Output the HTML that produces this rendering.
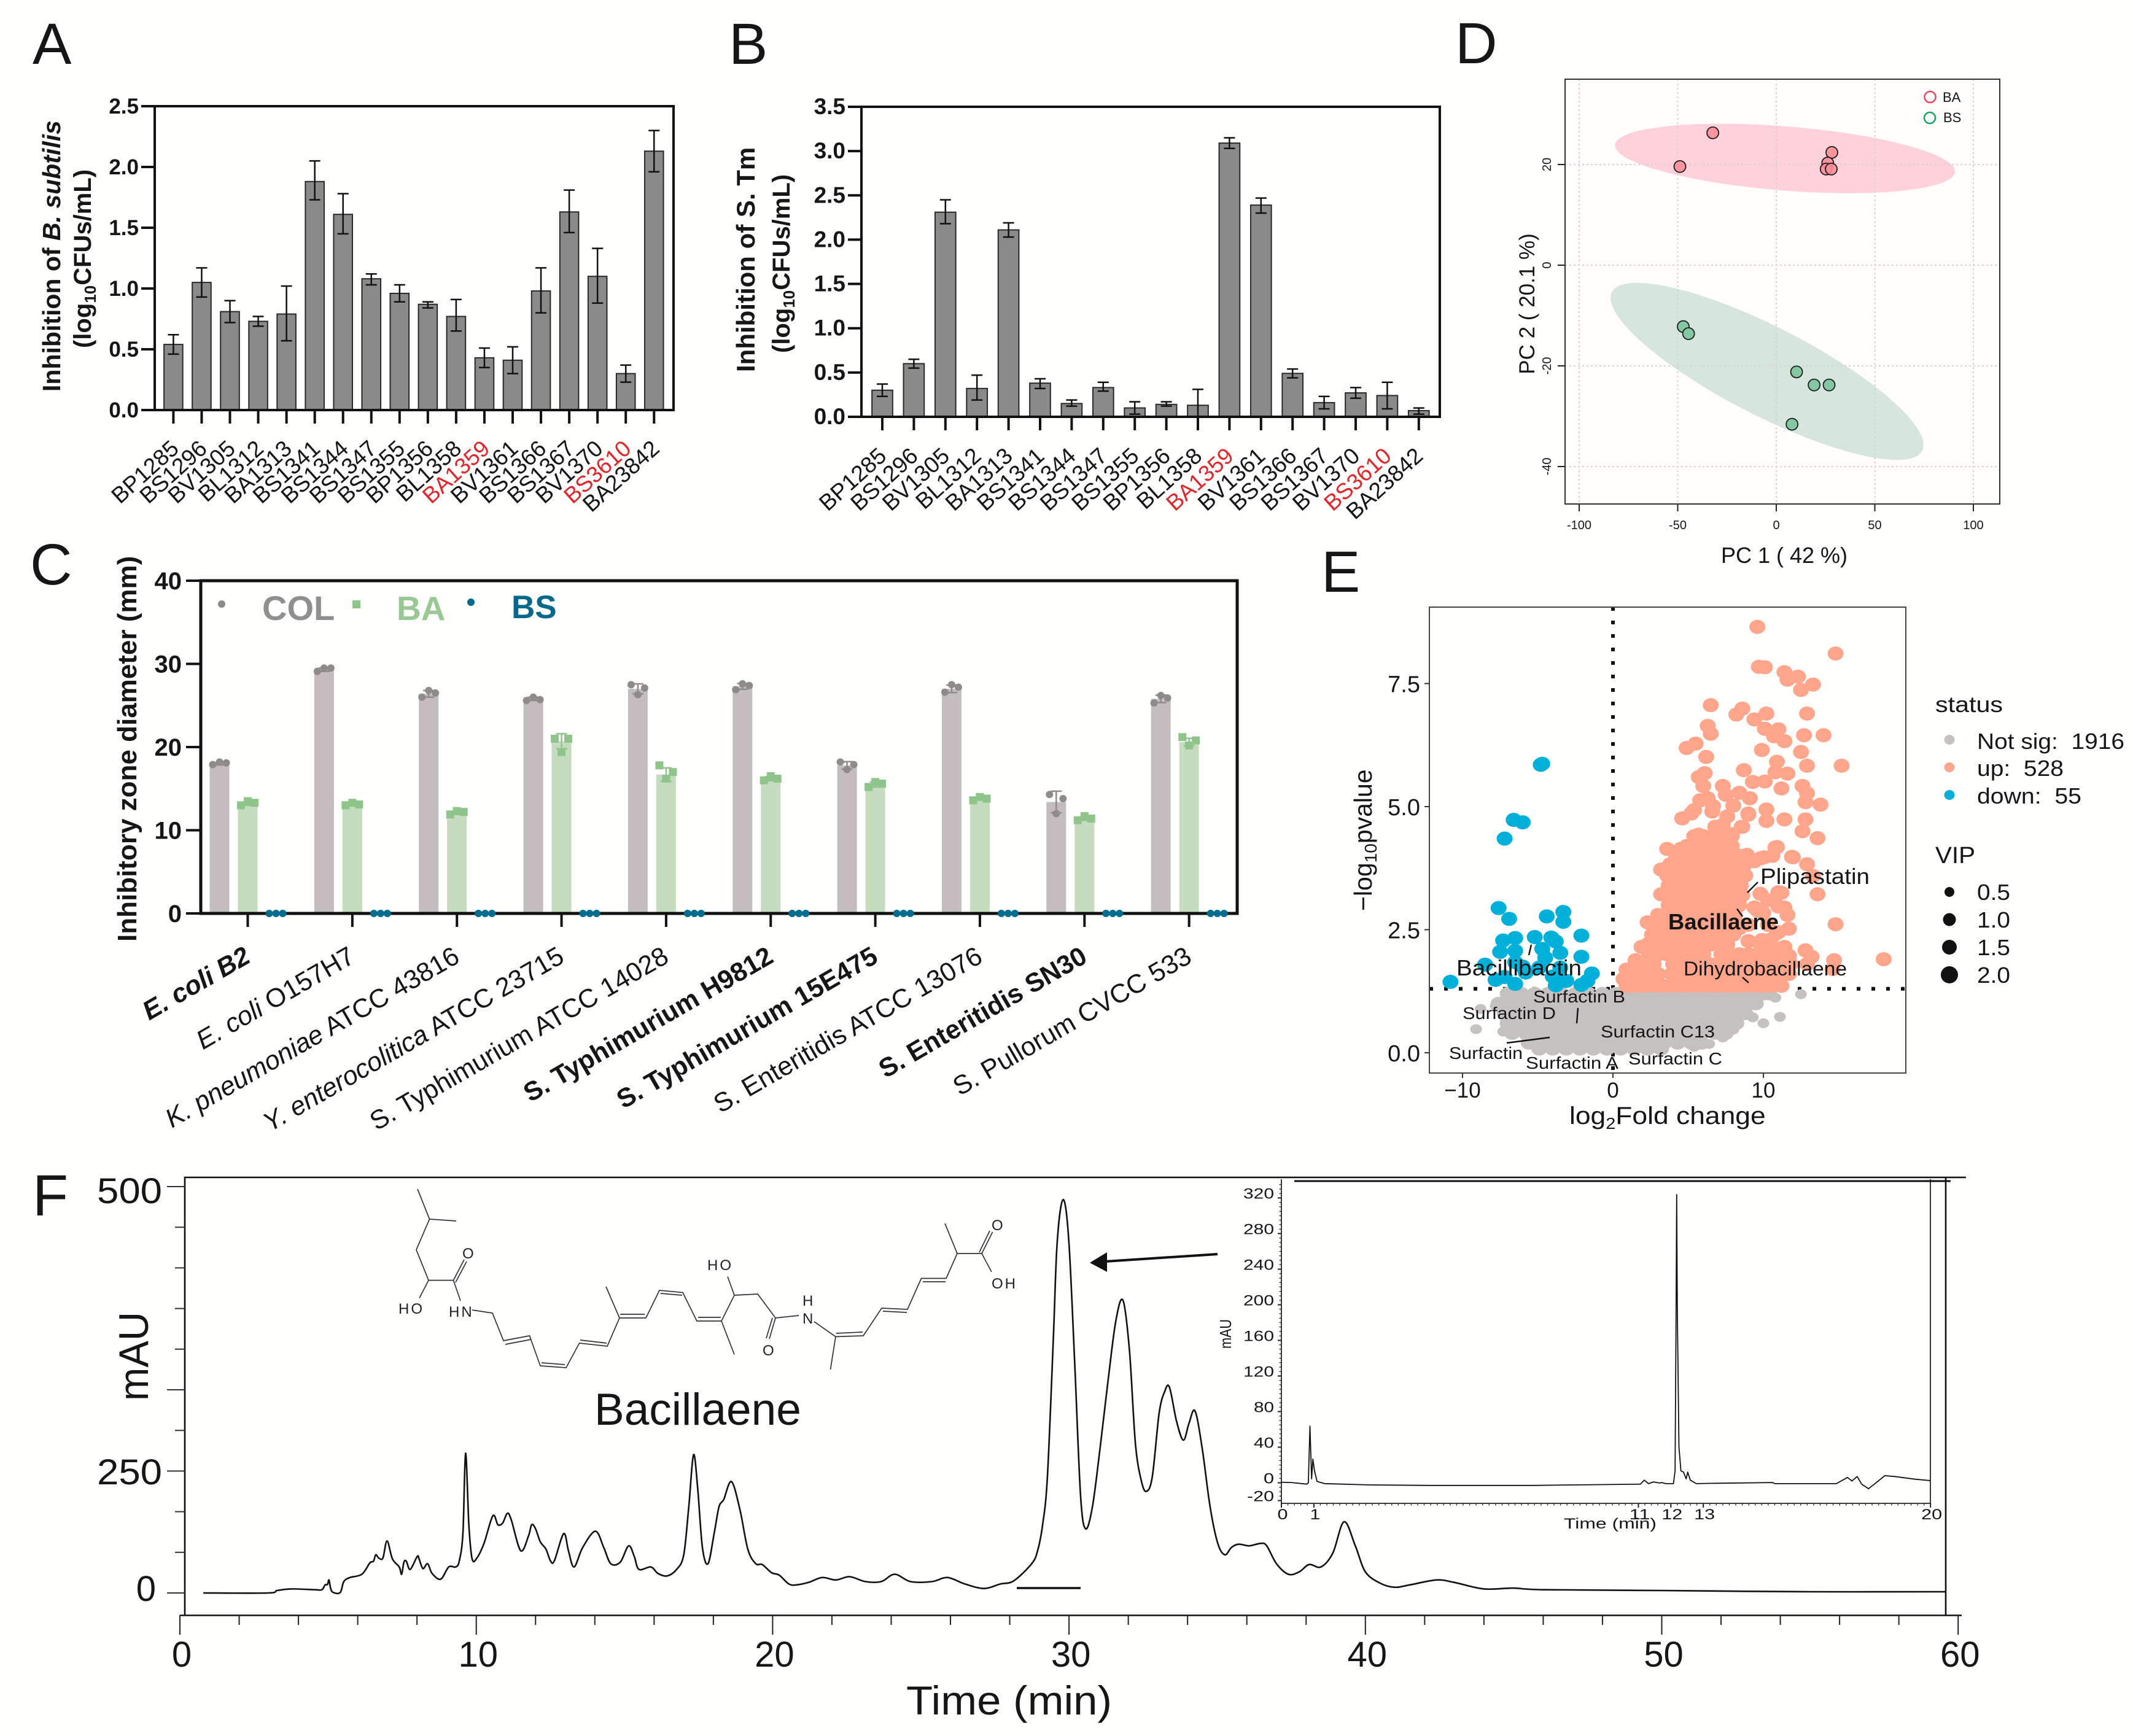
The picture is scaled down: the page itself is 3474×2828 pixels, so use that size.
<!DOCTYPE html>
<html lang="en">
<head>
<meta charset="utf-8">
<title>Bacillaene multi-panel figure</title>
<style>
html,body{margin:0;padding:0;background:#fefefd;}
svg{display:block;font-family:"Liberation Sans",sans-serif;}
text{fill:#161616;white-space:pre;}
.panel-letter{font-size:95px;}
.atom{font-size:24px;fill:#222;letter-spacing:3px;}
</style>
</head>
<body>
<svg xmlns="http://www.w3.org/2000/svg" width="3474" height="2828" viewBox="0 0 3474 2828">
<rect x="0" y="0" width="3474" height="2828" fill="#fefefd"/>

<text class="panel-letter" x="53" y="104">A</text>
<text class="panel-letter" x="1187" y="104">B</text>
<text class="panel-letter" x="2370" y="103">D</text>
<text class="panel-letter" x="49" y="952">C</text>
<text class="panel-letter" x="2152" y="964">E</text>
<text class="panel-letter" x="53" y="1980">F</text>

<g id="panel-a">
  <text transform="translate(98,638) rotate(-90)" font-size="41" font-weight="bold">Inhibition of <tspan font-style="italic">B. subtilis</tspan></text>
  <text transform="translate(148,567) rotate(-90)" font-size="40" font-weight="bold">(log<tspan font-size="26" dy="8">10</tspan><tspan dy="-8">CFUs/mL)</tspan></text>
</g>

<g id="panel-b">
  <text transform="translate(1229,606) rotate(-90)" font-size="42" font-weight="bold">Inhibition of S. Tm</text>
  <text transform="translate(1286,575) rotate(-90)" font-size="40" font-weight="bold">(log<tspan font-size="26" dy="8">10</tspan><tspan dy="-8">CFUs/mL)</tspan></text>
</g>

<g id="panel-c">
  <text transform="translate(222,1534) rotate(-90)" font-size="44" font-weight="bold">Inhibitory zone diameter (mm)</text>
  <circle cx="361" cy="984" r="6" fill="#8f8b8b"/>
  <text x="427" y="1010" font-size="56" font-weight="bold" style="fill:#908e8e">COL</text>
  <rect x="574" y="978" width="13" height="13" fill="#8fc58a"/>
  <text x="646" y="1010" font-size="55" font-weight="bold" style="fill:#9ac894">BA</text>
  <circle cx="767" cy="981" r="6" fill="#06688a"/>
  <text x="833" y="1007" font-size="53" font-weight="bold" style="fill:#06688a">BS</text>
</g>

<g id="panel-d">
  <text x="2906" y="917" text-anchor="middle" font-size="36">PC 1 ( 42 %)</text>
  <text transform="translate(2499,495) rotate(-90)" text-anchor="middle" font-size="35">PC 2 ( 20.1 %)</text>
</g>

<g id="panel-e">
  <text transform="translate(2556,1831) scale(1.11,1)" font-size="40">log<tspan font-size="26" dy="8">2</tspan><tspan dy="-8">Fold change</tspan></text>
  <text transform="translate(2234,1484) rotate(-90)" font-size="41">−log<tspan font-size="28" dy="8">10</tspan><tspan dy="-8">pvalue</tspan></text>
  <text x="3152" y="1160" font-size="36" textLength="110" lengthAdjust="spacingAndGlyphs">status</text>
  <text x="3220" y="1220" font-size="36" textLength="240" lengthAdjust="spacingAndGlyphs">Not sig:  1916</text>
  <text x="3220" y="1264" font-size="36" textLength="141" lengthAdjust="spacingAndGlyphs">up:  528</text>
  <text x="3220" y="1309" font-size="36" textLength="170" lengthAdjust="spacingAndGlyphs">down:  55</text>
  <ellipse cx="3175" cy="1205" rx="8.5" ry="8" fill="#c5c1c0"/>
  <ellipse cx="3175" cy="1250" rx="8.5" ry="8" fill="#ffa58c"/>
  <ellipse cx="3175" cy="1295" rx="8.5" ry="8" fill="#00b0d8"/>
  <text x="3152" y="1406" font-size="38" textLength="65" lengthAdjust="spacingAndGlyphs">VIP</text>
  <circle cx="3175" cy="1453" r="8" fill="#111"/>
  <circle cx="3175" cy="1498" r="10.5" fill="#111"/>
  <circle cx="3175" cy="1543" r="12" fill="#111"/>
  <circle cx="3175" cy="1588" r="14" fill="#111"/>
  <text x="3220" y="1466" font-size="36" textLength="54" lengthAdjust="spacingAndGlyphs">0.5</text>
  <text x="3220" y="1511" font-size="36" textLength="54" lengthAdjust="spacingAndGlyphs">1.0</text>
  <text x="3220" y="1556" font-size="36" textLength="54" lengthAdjust="spacingAndGlyphs">1.5</text>
  <text x="3220" y="1601" font-size="36" textLength="54" lengthAdjust="spacingAndGlyphs">2.0</text>
</g>

<g id="panel-f">
  <path d="M680 1937L699.5 1986L743 1989M699.5 1986L678 2036L698 2085.6L738.5 2085.6M698 2085.6L683 2114.6M738.5 2085.6L756 2052M742 2089L760 2055M738.5 2085.6L750 2119M769 2134L802 2139L820 2184L862.5 2176L880 2225L922 2228L943.6 2188L989 2193L1009 2147L987 2096M1009 2147L1052 2147L1074 2102L1112 2105.5L1135 2152L1175 2152L1196 2110L1185 2079.5M1175 2152L1196 2206.5M1196 2110L1234 2108L1263 2147L1253 2181M1258 2147L1248 2180M1263 2147L1301 2143M1326 2153L1361 2177.5L1352.5 2231M1361 2177.5L1406 2176L1436 2131L1478 2133L1500.5 2082.5L1541 2082.5L1559 2042L1539 1993M1559 2042L1599 2042L1616.6 2007M1595 2040L1612 2005M1599 2042L1615 2072M823 2190L865 2182M882 2220L920 2223M945 2183L988 2188M1010 2141L1050 2141M1076 2107L1111 2110M1137 2146L1174 2146M1362 2172L1405 2170M1438 2136L1477 2138M1503 2088L1540 2088" fill="none" stroke="#333" stroke-width="1.7"/>
  <text class="atom" x="649" y="2140">HO</text>
  <text class="atom" x="753" y="2050">O</text>
  <text class="atom" x="731" y="2145">HN</text>
  <text class="atom" x="1152" y="2069">HO</text>
  <text class="atom" x="1242" y="2208">O</text>
  <text class="atom" x="1307" y="2127">H</text>
  <text class="atom" x="1307" y="2156">N</text>
  <text class="atom" x="1615" y="2004">O</text>
  <text class="atom" x="1615" y="2099">OH</text>
  <text x="968" y="2321" font-size="73">Bacillaene</text>
  <text x="264" y="1960" text-anchor="end" font-size="58" textLength="106" lengthAdjust="spacingAndGlyphs">500</text>
  <text x="264" y="2418" text-anchor="end" font-size="58" textLength="106" lengthAdjust="spacingAndGlyphs">250</text>
  <text x="254" y="2608" text-anchor="end" font-size="58">0</text>
  <text transform="translate(241,2282) rotate(-90)" font-size="68" textLength="145" lengthAdjust="spacingAndGlyphs">mAU</text>
  <text x="1476" y="2793" font-size="66" textLength="335" lengthAdjust="spacingAndGlyphs">Time (min)</text>
  <line x1="1656" y1="2587" x2="1760" y2="2587" stroke="#111" stroke-width="3.5"/>
  <line x1="1983" y1="2043" x2="1800" y2="2055" stroke="#111" stroke-width="4"/>
  <polygon points="1775,2057 1803,2040 1803,2072" fill="#111"/>
  <text transform="translate(2005,2197) rotate(-90)" font-size="26" textLength="48" lengthAdjust="spacingAndGlyphs">mAU</text>
  <text x="2547" y="2490" font-size="24" textLength="151" lengthAdjust="spacingAndGlyphs">Time (min)</text>
</g>

<g id="panel-e-annotations"></g>

<script>
/* ---------- Panels A and B ---------- */
const strainNames = ['BP1285','BS1296','BV1305','BL1312','BA1313','BS1341','BS1344','BS1347','BS1355','BP1356','BL1358','BA1359','BV1361','BS1366','BS1367','BV1370','BS3610','BA23842'];
const highlightedStrains = ['BA1359','BS3610'];
const aValues = [0.54,1.05,0.81,0.73,0.79,1.88,1.61,1.08,0.96,0.87,0.77,0.43,0.41,0.98,1.63,1.10,0.30,2.13];
const aErrUpper = [0.62,1.17,0.90,0.77,1.02,2.05,1.78,1.12,1.03,0.89,0.91,0.51,0.52,1.17,1.81,1.33,0.37,2.30];
const aErrLower = [0.46,0.93,0.72,0.69,0.57,1.73,1.45,1.03,0.89,0.84,0.65,0.35,0.30,0.80,1.46,0.88,0.23,1.96];
const aTickValues = [0,0.5,1,1.5,2,2.5];
const bValues = [0.30,0.60,2.31,0.32,2.11,0.38,0.15,0.33,0.10,0.14,0.13,3.09,2.39,0.49,0.16,0.27,0.24,0.07];
const bErrUpper = [0.37,0.65,2.45,0.47,2.19,0.43,0.19,0.39,0.17,0.17,0.31,3.15,2.47,0.54,0.23,0.33,0.39,0.10];
const bErrLower = [0.23,0.55,2.18,0.19,2.03,0.32,0.12,0.29,0.03,0.12,0.00,3.03,2.30,0.44,0.09,0.21,0.09,0.03];
const bTickValues = [0,0.5,1,1.5,2,2.5,3,3.5];

/* ---------- Panel C ---------- */
const cCategories = ['E. coli B2','E. coli O157H7','K. pneumoniae ATCC 43816','Y. enterocolitica ATCC 23715','S. Typhimurium ATCC 14028','S. Typhimurium H9812','S. Typhimurium 15E475','S. Enteritidis ATCC 13076','S. Enteritidis SN30','S. Pullorum CVCC 533'];
const cBoldCategories = ['E. coli B2','S. Typhimurium H9812','S. Typhimurium 15E475','S. Enteritidis SN30'];
const cItalicPrefixes = ['E. coli','E. coli','K. pneumoniae','Y. enterocolitica','','','','','',''];
const cColMeans = [18,29.3,26.4,25.8,27,27.3,17.8,27,13.4,25.8];
const cBaMeans = [13.2,13.1,12.1,20.7,16.7,16.2,15.5,13.8,11.4,20.6];
const cColErrors = [0.15,0.2,0.4,0.2,0.6,0.35,0.45,0.45,1.3,0.45];
const cBaErrors = [0.2,0.15,0.2,0.9,0.8,0.25,0.3,0.15,0.2,0.45];
const cColReplicates = [[17.9,18.2,18.1],[29.1,29.5,29.5],[26,26.8,26.5],[25.6,26,25.7],[27.5,26.3,27.1],[26.9,27.6,27.4],[18.2,17.3,17.9],[26.6,27.5,27.2],[14.3,12,13.8],[25.3,26.2,25.9]];
const cBaReplicates = [[13,13.5,13.3],[13,13.3,13.1],[11.9,12.3,12.2],[21,19.4,21],[17.8,16.2,17],[16,16.5,16.2],[15.2,15.8,15.6],[13.6,14,13.8],[11.2,11.7,11.4],[21.2,20.2,20.8]];
const cBsReplicates = [[0,0,0],[0,0,0],[0,0,0],[0,0,0],[0,0,0],[0,0,0],[0,0,0],[0,0,0],[0,0,0],[0,0,0]];
const cTickValues = [0,10,20,30,40];

/* ---------- Panel D ---------- */
const dBaPC1 = [-48.9,-32.2,28.2,26.1,25.3,27.9];
const dBaPC2 = [19.6,26.3,22.4,20.3,19.1,19.1];
const dBsPC1 = [-47.2,-44.5,10.3,19.2,26.8,8];
const dBsPC2 = [-12.2,-13.6,-21.2,-23.8,-23.8,-31.6];
const dBaEllipse = [4.4,21.2,86.3,6.9,-0.375];
const dBsEllipse = [-4.7,-21.1,79.4,17.6,-0.83];
const dXTicks = [-100,-50,0,50,100];
const dYTicks = [-40,-20,0,20];

/* ---------- Panel E ---------- */
const eUpPoints = [[9.6,8.65],[14.8,8.11],[9.7,7.84],[10.1,7.83],[11.4,7.73],[11.6,7.58],[12.3,7.64],[13.3,7.48],[12.5,7.37],[6.5,7.06],[8.6,6.99],[8.2,6.87],[10.2,6.89],[12.9,6.89],[9.4,6.77],[6.3,6.64],[10.1,6.58],[10.7,6.43],[11.0,6.57],[6.5,6.48],[12.7,6.45],[14.0,6.45],[11.4,6.33],[5.5,6.28],[4.9,6.19],[9.9,6.15],[12.5,6.11],[6.2,6.01],[15.2,5.83],[12.9,5.83],[10.9,5.91],[10.8,5.70],[11.6,5.67],[8.7,5.74],[6.1,5.68],[5.7,5.60],[9.3,5.50],[10.1,5.51],[6.0,5.42],[7.3,5.42],[11.2,5.37],[12.6,5.42],[12.9,5.27],[7.5,5.24],[8.4,5.28],[9.1,5.17],[12.8,5.09],[13.8,5.04],[5.8,5.13],[6.3,5.17],[8.0,5.02],[10.2,4.94],[10.2,4.71],[9.0,4.86],[11.4,4.74],[12.8,4.74],[12.6,4.50],[13.6,4.36],[4.6,4.76],[5.2,4.86],[6.6,4.90],[7.3,4.63],[8.6,4.59],[7.9,4.44],[5.6,4.37],[3.6,4.14],[4.5,4.14],[10.8,4.17],[11.9,3.98],[12.9,3.83],[9.8,3.95],[8.9,4.02],[3.2,3.72],[3.8,3.83],[13.3,3.59],[13.6,3.22],[9.8,3.23],[11.2,3.25],[10.7,3.10],[11.4,2.95],[11.6,2.80],[11.7,2.52],[14.8,2.61],[3.2,3.22],[2.3,2.65],[3.0,2.80],[9.4,2.95],[10.0,2.84],[8.4,2.53],[1.9,2.15],[1.5,1.88],[0.9,1.69],[0.7,1.50],[12.8,2.08],[13.2,1.95],[14.7,1.88],[18.0,1.90],[14.6,1.70],[11.4,2.15],[10.5,2.3],[11.0,2.45],[5.4,4.93],[6.65,5.01],[7.6,4.8],[9.0,4.84],[8.55,4.59],[5.7,4.43],[6.8,4.59],[9.4,3.89],[10.05,3.97],[10.9,4.18],[10.6,4.0],[11.96,3.97],[11.0,3.26],[10.3,3.1],[11.0,2.97],[9.6,2.89],[10.9,2.43],[9.0,2.27],[9.9,2.29],[10.9,1.98],[11.7,1.97]];
const eUpRowLevels = [4.4,4.2,4.0,3.8,3.6,3.4,3.2,3.0,2.8,2.6,2.4,2.2,2.0,1.8,1.6,1.36];
const eUpRowFoldChanges = [
 [5.4,6.0,6.6,7.2,7.9],
 [4.9,5.5,6.1,6.7,7.3,7.9],
 [4.2,4.8,5.4,6.0,6.6,7.2,7.8,8.4],
 [3.9,4.5,5.1,5.7,6.3,6.9,7.5,8.1,8.7],
 [3.6,4.2,4.8,5.4,6.0,6.6,7.2,7.8,8.4,8.8],
 [3.7,4.3,4.9,5.5,6.1,6.7,7.3,7.9,8.5],
 [3.8,4.4,5.0,5.6,6.2,6.8,7.4,8.0,8.6],
 [3.7,4.3,4.9,5.5,6.1,6.7,7.3,7.9,8.4],
 [4.0,4.6,5.2,5.8,6.4,7.0,7.6,8.1],
 [2.9,3.5,4.1,4.7,5.3,5.9,6.5,7.1,7.7,8.3,9.0,10.3],
 [2.6,3.2,3.8,4.4,5.0,5.6,6.2,6.8,7.4,8.0],
 [2.3,2.9,3.5,4.1,4.7,5.3,5.9,6.5,7.1,7.6,9.8,10.4],
 [2.4,3.0,3.6,4.2,4.8,5.4,6.0,7.2,7.8,8.4,9.0,9.6,10.5,11.2],
 [1.5,2.1,2.7,4.0,4.6,5.2,5.8,6.4,7.0,7.6,8.2,8.8,9.4,10.0,10.6,11.2,11.8,12.9],
 [1.2,1.8,2.4,3.0,3.9,4.5,5.1,5.7,6.3,6.9,7.5,8.1,8.7,9.3,9.9,10.5,11.1,11.7],
 [0.9,1.5,2.1,2.7,3.3,3.9,4.5,5.1,5.7,6.3,6.9,7.5,8.1,8.7,9.3,9.9,10.5,11.2]
];
const eDownPoints = [[-4.7,5.87],[-4.8,5.85],[-6.6,4.73],[-6.0,4.68],[-7.2,4.35],[-7.6,2.94],[-6.9,2.72],[-4.4,2.77],[-3.3,2.86],[-3.3,2.66],[-2.1,2.38],[-5.2,2.35],[-6.5,2.33],[-7.3,2.28],[-4.1,2.34],[-3.8,2.26],[-7.5,2.05],[-6.5,2.07],[-4.7,2.11],[-3.5,2.03],[-4.5,1.93],[-2.1,1.95],[-8.5,1.79],[-6.5,1.84],[-5.8,1.63],[-10.8,1.44],[-7.8,1.48],[-6.5,1.40],[-7.2,1.54],[-1.4,1.61],[-1.7,1.46],[-2.1,1.38],[-3.1,1.46],[-3.8,1.37],[-3.5,1.73],[-4.9,1.73],[-6.0,1.75],[-4.0,1.55]];
const eGrayOutliers = [[12.5,1.19],[10.8,1.12],[11.1,0.73],[10,0.6],[9.3,0.72],[-9.1,0.48],[-8.8,0.89],[7.3,0.31],[8,0.47],[-7.3,0.43],[6.4,0.18],[5.4,0.12],[-7.8,0.95]];
const eGrayRowLevels = [1.2,1.0,0.8,0.6,0.4,0.2,0.08];
const eGrayRowFoldChanges = [
 [-7,-6.1,-5.2,-4.3,-3.4,-2.5,-1.6,-0.7,0.2,1.1,2,2.9,3.8,4.7,5.6,6.5,7.4,8.3,9.2,10,10.4],
 [-7.6,-6.7,-5.8,-4.9,-4,-3.1,-2.2,-1.3,-0.4,0.5,1.4,2.3,3.2,4.1,5,5.9,6.8,7.7,8.6,9.5],
 [-7.2,-6.3,-5.4,-4.5,-3.6,-2.7,-1.8,-0.9,0,0.9,1.8,2.7,3.6,4.5,5.4,6.3,7.2,8.1,8.8],
 [-7,-6.1,-5.2,-4.3,-3.4,-2.5,-1.6,-0.7,0.2,1.1,2,2.9,3.8,4.7,5.6,6.5,7.4,8.2],
 [-6.7,-5.8,-4.9,-4,-3.1,-2.2,-1.3,-0.4,0.5,1.4,2.3,3.2,4.1,5,5.9,6.8,7.5],
 [-5.6,-4.7,-3.8,-2.9,-2,-1.1,-0.2,0.7,1.6,2.5,3.4,4.3,5.2,5.9],
 [-4.9,-4,-3.1,-2.2,-1.3,-0.4,0.5,1.4,2.3,3.2]
];
const eThresholdP = 1.3;
const eXTicks = [-10,0,10];
const eYTicks = [0,2.5,5,7.5];

/* ---------- Panel F ---------- */
const fTimes = [0.79,2.96,3.28,3.76,4.55,4.79,4.9,4.98,5.03,5.09,5.18,5.41,5.53,5.74,6.14,6.41,6.53,6.61,6.71,6.85,6.99,7.17,7.40,7.48,7.56,7.64,7.77,8.01,8.07,8.20,8.36,8.51,8.80,9.07,9.31,9.43,9.55,9.64,9.75,9.86,10.02,10.26,10.56,10.73,10.89,11.05,11.18,11.50,11.76,11.87,12.0,12.16,12.35,12.51,12.64,12.95,13.11,13.30,13.59,14.02,14.30,14.54,14.86,15.14,15.33,15.49,15.89,16.13,16.44,16.76,17.0,17.17,17.33,17.47,17.63,17.82,18.03,18.19,18.35,18.61,18.90,19.16,19.43,19.65,19.96,20.22,20.55,20.81,21.21,21.67,22.13,22.60,23.13,23.66,24.12,24.65,25.37,25.90,26.49,27.13,27.68,28.14,28.74,28.94,29.11,29.27,29.47,29.60,29.80,29.99,30.19,30.39,30.56,30.79,31.05,31.32,31.58,31.82,32.04,32.24,32.44,32.61,32.81,33.04,33.23,33.39,33.63,33.86,34.05,34.25,34.49,34.76,35.02,35.26,35.48,35.72,36.08,36.47,36.67,37.0,37.4,37.77,38.1,38.5,38.9,39.28,39.66,40.0,40.5,41,41.5,42.4,43,44,45,46,50,55,59.6];
const fSignal = [0,0,3,5,4,4,10,10.5,16,5,0.5,0.5,14,19,23,37,39,47,43,43,64,42,32,23,38,39,29,45,42,30,36,24,17,32,32,40,74,172,84,42,43,61,95,84,86,98,90,52,70,84,79,63,54,39,40,73,52,32,56,76,56,36,38,58,45,29,32,24,21,29,47,106,170,129,56,36,74,106,115,137,102,54,36,35,25,22,11,10,13,19,16,20,14,14,23,14,14,19,11,5.5,11,15,36,52,84,143,312,431,484,435,284,120,79,106,179,262,335,360,298,184,138,125,143,221,248,253,211,188,209,224,179,106,61,47,56,60,58,61,58,36,23,26,35,32,49,87.6,58,26,12,7,10,16,13,5,6,4,3,1.5,1.5];
const fXTicks = [0,2,4,6,8,10,12,14,16,18,20,22,24,26,28,30,32,34,36,38,40,42,44,46,48,50,52,54,56,58,60];
const fXLabels = [0,10,20,30,40,50,60];
const fYTicks = [0,50,100,150,200,250,300,350,400,450,500];
const fYMajorTicks = [0,150,250,500];
const insetTimes = [0,0.31,0.78,0.83,0.88,0.93,0.97,1.02,1.10,1.33,2.75,4.63,7.76,10.43,11.06,11.18,11.31,11.47,11.65,11.72,11.84,12.08,12.13,12.16,12.18,12.2,12.25,12.31,12.39,12.47,12.52,12.6,12.78,13.25,15.14,15.2,17.1,17.44,17.58,17.74,17.88,18.09,18.27,18.59,18.9,19.53,20];
const insetSignal = [0.6,0.3,-1.5,0,63.6,4.5,26.6,13.4,1.5,-1,-2.4,-3,-3,-1.8,-1.5,3,-1,1,-0.3,0.3,-1,-1,13.4,190,323.8,190,40,13.4,12,4.5,12,3,-1,-0.6,0.3,-1,-1,6,2,7,-1.5,-6.6,-1.5,8,7,4,2.4];
const insetYTicks = [-20,0,40,80,120,160,200,240,280,320];
const insetXLabels = [0,1,11,12,13,20];

/* ---------- helpers ---------- */
const NS = 'http://www.w3.org/2000/svg';
function make(tag, attrs, parent) {
  const node = document.createElementNS(NS, tag);
  for (const key in attrs) node.setAttribute(key, attrs[key]);
  parent.appendChild(node);
  return node;
}
function fmt1(v) { return v.toFixed(1); }
function smoothPath(pts) {
  let d = 'M' + pts[0][0].toFixed(1) + ' ' + pts[0][1].toFixed(1);
  for (let i = 0; i < pts.length - 1; i++) {
    const p0 = pts[Math.max(i - 1, 0)], p1 = pts[i], p2 = pts[i + 1], p3 = pts[Math.min(i + 2, pts.length - 1)];
    const c1x = p1[0] + (p2[0] - p0[0]) / 6, c1y = p1[1] + (p2[1] - p0[1]) / 6;
    const c2x = p2[0] - (p3[0] - p1[0]) / 6, c2y = p2[1] - (p3[1] - p1[1]) / 6;
    d += 'C' + c1x.toFixed(1) + ' ' + c1y.toFixed(1) + ' ' + c2x.toFixed(1) + ' ' + c2y.toFixed(1) + ' ' + p2[0].toFixed(1) + ' ' + p2[1].toFixed(1);
  }
  return d;
}

/* ---------- bar panels A and B ---------- */
function drawStrainBars(group, prefix, values, upper, lower, ticks, sc) {
  const x = i => sc.x0 + sc.dx * i;
  const y = v => sc.y0 - sc.k * v;
  values.forEach((v, i) => {
    const bar = make('rect', {x: x(i) - sc.w / 2, y: y(v), width: sc.w, height: y(0) - y(v), fill: '#8a8a8a', stroke: '#2a2a2a', 'stroke-width': 2}, group);
    
    
    const stem = make('path', {d: 'M' + x(i) + ' ' + y(upper[i]) + 'V' + y(lower[i]) + 'M' + (x(i) - 9) + ' ' + y(upper[i]) + 'h18M' + (x(i) - 9) + ' ' + y(lower[i]) + 'h18', fill: 'none', stroke: '#111', 'stroke-width': 2.5}, group);
    
    
    const tick = make('line', {x1: x(i), x2: x(i), y1: sc.y0, y2: sc.y0 + 22, stroke: '#111', 'stroke-width': 4}, group);
    
    
    const label = make('text', {transform: 'translate(' + (x(i) + sc.lx) + ',' + sc.ly + ') rotate(-42)', 'text-anchor': 'end', 'font-size': 37}, group);
    label.textContent = strainNames[i];
    if (highlightedStrains.includes(strainNames[i])) label.style.fill = '#e0262b';
    
    
  });
  ticks.forEach(t => {
    const tick = make('line', {x1: sc.left - 22, x2: sc.left, y1: y(t), y2: y(t), stroke: '#111', 'stroke-width': 4}, group);
    
    
    const label = make('text', {x: sc.left - 26, y: y(t) + 12, 'text-anchor': 'end', 'font-size': sc.fs, 'font-weight': 'bold'}, group);
    label.textContent = fmt1(t);
    
    
  });
  const frame = make('rect', {x: sc.left, y: y(ticks[ticks.length - 1]), width: sc.right - sc.left, height: y(0) - y(ticks[ticks.length - 1]), fill: 'none', stroke: '#111', 'stroke-width': 4}, group);
  
  
}
drawStrainBars(document.getElementById('panel-a'), 'a', aValues, aErrUpper, aErrLower, aTickValues,
  {x0: 282.4, dx: 46.05, w: 30.6, y0: 668, k: 198, left: 252, right: 1097, lx: 11, ly: 734, fs: 35});
drawStrainBars(document.getElementById('panel-b'), 'b', bValues, bErrUpper, bErrLower, bTickValues,
  {x0: 1437, dx: 51.4, w: 33.7, y0: 679, k: 144.3, left: 1403, right: 2345, lx: 9, ly: 746, fs: 37});

/* ---------- panel C ---------- */
(function () {
  const group = document.getElementById('panel-c');
  const cx = i => 403.5 + 170.35 * i;
  const cy = v => 1488 - 13.55 * v;
  const offsets = [-11, 0, 11];
  cCategories.forEach((name, i) => {
    const colBar = make('rect', {x: cx(i) - 46 - 16, y: cy(cColMeans[i]), width: 32, height: cy(0) - cy(cColMeans[i]), fill: '#c3bdbf'}, group);
    
    
    const baBar = make('rect', {x: cx(i) - 16, y: cy(cBaMeans[i]), width: 32, height: cy(0) - cy(cBaMeans[i]), fill: '#c6dcbe'}, group);
    
    
    const colErr = make('path', {d: 'M' + (cx(i) - 46) + ' ' + cy(cColMeans[i] + cColErrors[i]) + 'V' + cy(cColMeans[i] - cColErrors[i]) + 'm-9 0h18M' + (cx(i) - 55) + ' ' + cy(cColMeans[i] + cColErrors[i]) + 'h18', fill: 'none', stroke: '#908c8c', 'stroke-width': 2.5}, group);
    
    
    const baErr = make('path', {d: 'M' + cx(i) + ' ' + cy(cBaMeans[i] + cBaErrors[i]) + 'V' + cy(cBaMeans[i] - cBaErrors[i]) + 'm-9 0h18M' + (cx(i) - 9) + ' ' + cy(cBaMeans[i] + cBaErrors[i]) + 'h18', fill: 'none', stroke: '#8fc58a', 'stroke-width': 2.5}, group);
    
    
    offsets.forEach((off, r) => {
      const colDot = make('circle', {cx: cx(i) - 46 + off, cy: cy(cColReplicates[i][r]), r: 6, fill: '#8f8b8b'}, group);
      
      
      const baDot = make('rect', {x: cx(i) + off - 6.5, y: cy(cBaReplicates[i][r]) - 6.5, width: 13, height: 13, fill: '#8fc58a'}, group);
      
      
    });
    const tick = make('line', {x1: cx(i), x2: cx(i), y1: 1488, y2: 1510, stroke: '#111', 'stroke-width': 4}, group);
    
    
    const bold = cBoldCategories.includes(name);
    const label = make('text', {transform: 'translate(' + (cx(i) + 7) + ',1566) rotate(-30)', 'text-anchor': 'end', 'font-size': 43, 'font-weight': bold ? 'bold' : 'normal'}, group);
    
    
    const prefix = cItalicPrefixes[i];
    if (prefix) {
      const it = make('tspan', {'font-style': 'italic'}, label);
      it.textContent = prefix;
      
      
    }
    const rest = make('tspan', {}, label);
    rest.textContent = name.slice(prefix.length);
    if (name === 'E. coli B2') rest.setAttribute('font-style', 'italic');
    
    
  });
  const frame = make('rect', {x: 327, y: cy(40), width: 1688, height: cy(0) - cy(40), fill: 'none', stroke: '#111', 'stroke-width': 5}, group);
  
  
  cCategories.forEach((name, i) => {
    offsets.forEach((off, r) => {
      const bsDot = make('circle', {cx: cx(i) + 46 + off, cy: cy(cBsReplicates[i][r]), r: 6, fill: '#006d8f'}, group);
      
      
    });
  });
  cTickValues.forEach(t => {
    const tick = make('line', {x1: 303, x2: 327, y1: cy(t), y2: cy(t), stroke: '#111', 'stroke-width': 4}, group);
    
    
    const label = make('text', {x: 296, y: cy(t) + 14, 'text-anchor': 'end', 'font-size': 40, 'font-weight': 'bold'}, group);
    label.textContent = String(t);
    
    
  });
})();

/* ---------- panel D ---------- */
(function () {
  const group = document.getElementById('panel-d');
  const dx = v => 2893 + 3.21 * v;
  const dy = v => 432 - 8.2 * v;
  const L = 2549, R = 3257, T = 129, B = 821;
  const bg = make('rect', {x: L, y: T, width: R - L, height: B - T, fill: '#fffefc'}, group);
  
  
  function ellipsePath(e) {
    let d = '';
    for (let a = 0; a < 360; a += 5) {
      const t = a * Math.PI / 180;
      const vx = e[0] + e[2] * Math.cos(t);
      const vy = e[1] + e[3] * (e[4] * Math.cos(t) + Math.sqrt(1 - e[4] * e[4]) * Math.sin(t));
      d += (a ? 'L' : 'M') + dx(vx).toFixed(1) + ' ' + dy(vy).toFixed(1);
    }
    return d + 'Z';
  }
  const baEll = make('path', {d: ellipsePath(dBaEllipse), fill: '#ffd1da'}, group);
  
  
  const bsEll = make('path', {d: ellipsePath(dBsEllipse), fill: '#d7e6dc'}, group);
  
  
  dXTicks.forEach(t => {
    const grid = make('line', {x1: dx(t), x2: dx(t), y1: T, y2: B, stroke: '#d4d4d4', 'stroke-width': 2, 'stroke-dasharray': '3 4'}, group);
    
    
    const tick = make('line', {x1: dx(t), x2: dx(t), y1: B, y2: B + 12, stroke: '#222', 'stroke-width': 2}, group);
    
    
    const label = make('text', {x: dx(t), y: 862, 'text-anchor': 'middle', 'font-size': 20}, group);
    label.textContent = String(t);
    
    
  });
  dYTicks.forEach(t => {
    const grid = make('line', {x1: L, x2: R, y1: dy(t), y2: dy(t), stroke: '#d4d4d4', 'stroke-width': 2, 'stroke-dasharray': '3 4'}, group);
    
    
    const tick = make('line', {x1: L - 12, x2: L, y1: dy(t), y2: dy(t), stroke: '#222', 'stroke-width': 2}, group);
    
    
    const label = make('text', {transform: 'translate(2526,' + dy(t) + ') rotate(-90)', 'text-anchor': 'middle', 'font-size': 20}, group);
    label.textContent = String(t);
    
    
  });
  const frame = make('rect', {x: L, y: T, width: R - L, height: B - T, fill: 'none', stroke: '#333', 'stroke-width': 2}, group);
  
  
  dBaPC1.forEach((v, i) => {
    const pt = make('ellipse', {cx: dx(v), cy: dy(dBaPC2[i]), rx: 9.5, ry: 9.5, fill: '#f98e99', 'fill-opacity': 0.9, stroke: '#1c1c1c', 'stroke-width': 1.8}, group);
    
    
  });
  dBsPC1.forEach((v, i) => {
    const pt = make('ellipse', {cx: dx(v), cy: dy(dBsPC2[i]), rx: 9.5, ry: 9.5, fill: '#83c8a3', stroke: '#1c1c1c', 'stroke-width': 1.8}, group);
    
    
  });
  const ringBa = make('circle', {cx: 3143.5, cy: 158, r: 9, fill: 'none', stroke: '#f0405f', 'stroke-width': 2.5}, group);
  
  
  const ringBs = make('circle', {cx: 3143, cy: 192, r: 9, fill: 'none', stroke: '#10a858', 'stroke-width': 2.5}, group);
  
  
  const labelBa = make('text', {x: 3164, y: 166, 'font-size': 22}, group);
  labelBa.textContent = 'BA';
  
  
  const labelBs = make('text', {x: 3165, y: 199, 'font-size': 22}, group);
  labelBs.textContent = 'BS';
  
  
})();

/* ---------- panel E ---------- */
(function () {
  const group = document.getElementById('panel-e');
  const ex = v => 2627 + 24.5 * v;
  const ey = v => 1715 - 80.2 * v;
  const L = 2328, R = 3104, T = 989, B = 1748;
  const vLine = make('line', {x1: ex(0), x2: ex(0), y1: T, y2: B, stroke: '#111', 'stroke-width': 6, 'stroke-dasharray': '6 16'}, group);
  
  
  const hLine = make('line', {x1: L, x2: R, y1: ey(eThresholdP), y2: ey(eThresholdP), stroke: '#111', 'stroke-width': 6, 'stroke-dasharray': '6 18'}, group);
  
  
  eGrayRowLevels.forEach((lvl, r) => {
    eGrayRowFoldChanges[r].forEach(fc => {
      const dot = make('ellipse', {cx: ex(fc), cy: ey(lvl), rx: 13, ry: 11, fill: '#c5c1c0'}, group);
      
      
    });
  });
  eGrayOutliers.forEach(p => {
    const dot = make('ellipse', {cx: ex(p[0]), cy: ey(p[1]), rx: 9.5, ry: 8, fill: '#c5c1c0'}, group);
    
    
  });
  eUpRowLevels.forEach((lvl, r) => {
    eUpRowFoldChanges[r].forEach(fc => {
      const dot = make('ellipse', {cx: ex(fc), cy: ey(lvl), rx: 13, ry: 11.5, fill: '#ffa58c'}, group);
      
      
    });
  });
  eUpPoints.forEach(p => {
    const dot = make('ellipse', {cx: ex(p[0]), cy: ey(p[1]), rx: 13, ry: 11.5, fill: '#ffa58c'}, group);
    
    
  });
  eDownPoints.forEach(p => {
    const dot = make('ellipse', {cx: ex(p[0]), cy: ey(p[1]), rx: 13, ry: 11.5, fill: '#00b0d8'}, group);
    
    
  });
  const frame = make('rect', {x: L, y: T, width: R - L, height: B - T, fill: 'none', stroke: '#444', 'stroke-width': 2}, group);
  
  
  eXTicks.forEach(t => {
    const tick = make('line', {x1: ex(t), x2: ex(t), y1: B, y2: B + 8, stroke: '#333', 'stroke-width': 2}, group);
    
    
    const label = make('text', {x: ex(t), y: 1788, 'text-anchor': 'middle', 'font-size': 35}, group);
    label.textContent = t < 0 ? '\u2212' + Math.abs(t) : String(t);
    
    
  });
  eYTicks.forEach(t => {
    const tick = make('line', {x1: L - 8, x2: L, y1: ey(t), y2: ey(t), stroke: '#333', 'stroke-width': 2}, group);
    
    
    const label = make('text', {x: 2313, y: ey(t) + 14, 'text-anchor': 'end', 'font-size': 38}, group);
    label.textContent = fmt1(t);
    
    
  });
})();

/* ---------- panel E annotations ---------- */
(function () {
  const anno = document.getElementById('panel-e-annotations');
  const annoNames = ['Plipastatin','Bacillaene','Dihydrobacillaene','Bacillibactin','Surfactin B','Surfactin D','Surfactin C13','Surfactin','Surfactin A','Surfactin C'];
  const annoX = [2867,2717,2742,2372,2497,2382,2607,2360,2485,2652];
  const annoY = [1440,1514,1589,1589,1633,1660,1690,1725,1741,1734];
  const annoW = [178,180,266,204,150,152,186,120,151,153];
  const annoSize = [36,36,32,36,28,28,28,28,28,28];
  const annoWeight = ['normal','bold','normal','normal','normal','normal','normal','normal','normal','normal'];
  const leaderSegments = ['M2863 1437L2846 1454','M2829 1480.5L2838 1493','M2838 1592L2848 1601','M2494 1539L2490 1556','M2570 1642L2568 1667','M2454 1699L2524 1690'];
  leaderSegments.forEach(d => {
    const line = make('path', {d: d, fill: 'none', stroke: '#111', 'stroke-width': 2.4}, anno);
    
    
  });
  annoNames.forEach((n, i) => {
    const t = make('text', {x: annoX[i], y: annoY[i], 'font-size': annoSize[i], 'font-weight': annoWeight[i], textLength: annoW[i], lengthAdjust: 'spacingAndGlyphs'}, anno);
    t.textContent = n;
    
    
  });
})();

/* ---------- panel F ---------- */
(function () {
  const group = document.getElementById('panel-f');
  const fx = t => 293 + 48.27 * t;
  const fy = v => 2595 - 1.324 * v;
  const ix = t => 2087 + 52.86 * t;
  const iy = v => 2415.5 - 1.45 * v;
  const axes = make('path', {d: 'M301 2631.5V1918H3202M3169 1918V2631.5M293 2631.5H3195', fill: 'none', stroke: '#111', 'stroke-width': 2.6}, group);
  
  
  fXTicks.forEach(t => {
    const major = fXLabels.includes(t);
    const tick = make('line', {x1: fx(t), x2: fx(t), y1: 2631, y2: major ? 2663 : 2647, stroke: '#222', 'stroke-width': 2}, group);
    
    
  });
  fXLabels.forEach(t => {
    const label = make('text', {x: fx(t) + 3, y: 2715, 'text-anchor': 'middle', 'font-size': 58}, group);
    label.textContent = String(t);
    
    
  });
  fYTicks.forEach(t => {
    const tick = make('line', {x1: fYMajorTicks.includes(t) ? 272 : 285, x2: 301, y1: fy(t), y2: fy(t), stroke: '#333', 'stroke-width': 2}, group);
    
    
  });
  const trace = make('path', {d: smoothPath(fTimes.map((t, i) => [fx(t), fy(fSignal[i])])), fill: 'none', stroke: '#111', 'stroke-width': 2.6, 'stroke-linejoin': 'round'}, group);
  
  

  const insetAxes = make('path', {d: 'M2087 1921V2449H3144V1921', fill: 'none', stroke: '#222', 'stroke-width': 1.8}, group);
  
  
  const insetTop = make('line', {x1: 2108, x2: 3177, y1: 1924, y2: 1924, stroke: '#111', 'stroke-width': 3}, group);
  
  
  for (let v = -20; v <= 335; v += 5) {
    const minor = make('line', {x1: 2083.5, x2: 2087, y1: iy(v), y2: iy(v), stroke: '#333', 'stroke-width': 1.4}, group);
    
    
  }
  for (let m = 0; m <= 100; m += 1) {
    const minor = make('line', {x1: ix(m / 5), x2: ix(m / 5), y1: 2449, y2: 2452.5, stroke: '#333', 'stroke-width': 1.4}, group);
    
    
  }
  insetYTicks.forEach(t => {
    const tick = make('line', {x1: 2081, x2: 2087, y1: iy(t), y2: iy(t), stroke: '#222', 'stroke-width': 2}, group);
    
    
    const label = make('text', {x: 2075, y: iy(t) + 1, 'text-anchor': 'end', 'font-size': 24, textLength: t < 0 ? 44 : (t < 40 ? 17 : (t < 100 ? 33 : 50)), lengthAdjust: 'spacingAndGlyphs'}, group);
    label.textContent = String(t);
    
    
  });
  insetXLabels.forEach(t => {
    const tick = make('line', {x1: ix(t), x2: ix(t), y1: 2449, y2: 2456, stroke: '#222', 'stroke-width': 2}, group);
    
    
    const label = make('text', {x: ix(t) + 2, y: 2475, 'text-anchor': 'middle', 'font-size': 24, textLength: t < 10 ? 17 : 34, lengthAdjust: 'spacingAndGlyphs'}, group);
    label.textContent = String(t);
    
    
  });
  const insetTrace = make('polyline', {points: insetTimes.map((t, i) => ix(t).toFixed(1) + ',' + iy(insetSignal[i]).toFixed(1)).join(' '), fill: 'none', stroke: '#111', 'stroke-width': 1.8, 'stroke-linejoin': 'round'}, group);
  
  
})();
</script>
</svg>
</body>
</html>
